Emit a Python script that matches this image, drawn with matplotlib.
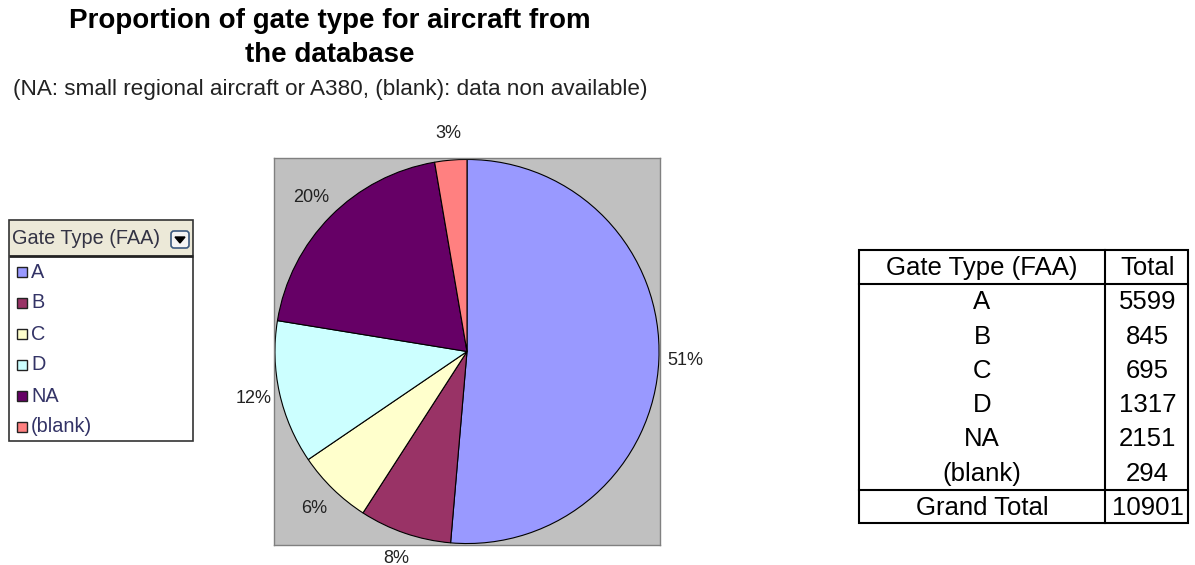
import matplotlib.pyplot as plt
from matplotlib.patches import Rectangle, FancyBboxPatch, Polygon

plt.rcParams['font.family'] = ['Liberation Sans', 'DejaVu Sans']

# Gate types (FAA) and aircraft counts
gate_types = ['A', 'B', 'C', 'D', 'NA', '(blank)']
counts = [5599, 845, 695, 1317, 2151, 294]
grand_total = 10901
colors = ['#9999FF', '#993366', '#FFFFCC', '#CCFFFF', '#660066', '#FF8080']

W, H = 1195, 565
fig = plt.figure(figsize=(W / 100, H / 100), dpi=100)

# overlay in pixel units for the title, legend box and table
ov = fig.add_axes([0, 0, 1, 1])
ov.set_xlim(0, W)
ov.set_ylim(H, 0)
ov.axis('off')

ov.text(330, 21, 'Proportion of gate type for aircraft from', ha='center', va='center',
        fontsize=20, fontweight='bold')
ov.text(330, 55, 'the database', ha='center', va='center', fontsize=20, fontweight='bold')
ov.text(330, 90, '(NA: small regional aircraft or A380, (blank): data non available)',
        ha='center', va='center', fontsize=16.2, color='#222222')

# pie chart
ax = fig.add_axes([274 / W, 1 - 545 / H, 386 / W, 387 / H])
ax.pie(counts, colors=colors, startangle=90, counterclock=False, frame=True,
       autopct='%.0f%%', pctdistance=1.14,
       wedgeprops=dict(edgecolor='black', linewidth=0.8),
       textprops=dict(fontsize=13, color='#222222'))
ax.set_xlim(-1.005, 1.005)
ax.set_ylim(-1.005, 1.005)
ax.set_xticks([])
ax.set_yticks([])
ax.set_facecolor('#C0C0C0')
for s in ax.spines.values():
    s.set_color('#808080')
    s.set_linewidth(1)

# legend box
lx0, lx1, ly0, ly1 = 9, 193, 220, 441
ov.add_patch(Rectangle((lx0, ly0), lx1 - lx0, 36, facecolor='#ECE9D8', edgecolor='none'))
ov.add_patch(Rectangle((lx0, ly0), lx1 - lx0, ly1 - ly0, facecolor='none',
                       edgecolor='#333333', linewidth=1.2))
ov.plot([lx0, lx1], [256, 256], color='#222222', linewidth=2, solid_capstyle='butt')
ov.text(12, 238, 'Gate Type (FAA)', ha='left', va='center', fontsize=14.3, color='#333344')
ov.add_patch(FancyBboxPatch((171, 231), 18, 17, boxstyle='round,pad=0,rounding_size=3',
                            facecolor='#F4F4F4', edgecolor='#3C5A80', linewidth=1.2))
ov.add_patch(Polygon([[175, 237], [185, 237], [180, 243]], closed=True, color='black'))
for i, (g, c) in enumerate(zip(gate_types, colors)):
    y = 272 + i * 31
    ov.add_patch(Rectangle((17, y - 5), 10, 10, facecolor=c, edgecolor='#222222', linewidth=1))
    ov.text(31, y, g, ha='left', va='center', fontsize=14.3, color='#333366')

# summary table
tx0, tx1, tx2 = 859, 1105, 1188
ty0, ty1, ty2, ty3 = 250, 284, 490, 523
ov.add_patch(Rectangle((tx0, ty0), tx2 - tx0, ty3 - ty0, facecolor='none',
                       edgecolor='black', linewidth=1.5))
ov.plot([tx1, tx1], [ty0, ty3], color='black', linewidth=1.5)
ov.plot([tx0, tx2], [ty1, ty1], color='black', linewidth=1.5)
ov.plot([tx0, tx2], [ty2, ty2], color='black', linewidth=1.5)
c1 = (tx0 + tx1) / 2
c2 = (tx1 + tx2) / 2 + 1
fs = 18.5
ov.text(c1, 268, 'Gate Type (FAA)', ha='center', va='center', fontsize=fs)
ov.text(c2, 268, 'Total', ha='center', va='center', fontsize=fs)
row_h = (ty2 - ty1) / len(gate_types)
for i, (g, n) in enumerate(zip(gate_types, counts)):
    y = ty1 + row_h * (i + 0.5) + 1
    ov.text(c1, y, g, ha='center', va='center', fontsize=fs)
    ov.text(c2, y, str(n), ha='center', va='center', fontsize=fs)
ov.text(c1, 508, 'Grand Total', ha='center', va='center', fontsize=fs)
ov.text(c2, 508, str(grand_total), ha='center', va='center', fontsize=fs)

fig.savefig('out.png', dpi=100)
